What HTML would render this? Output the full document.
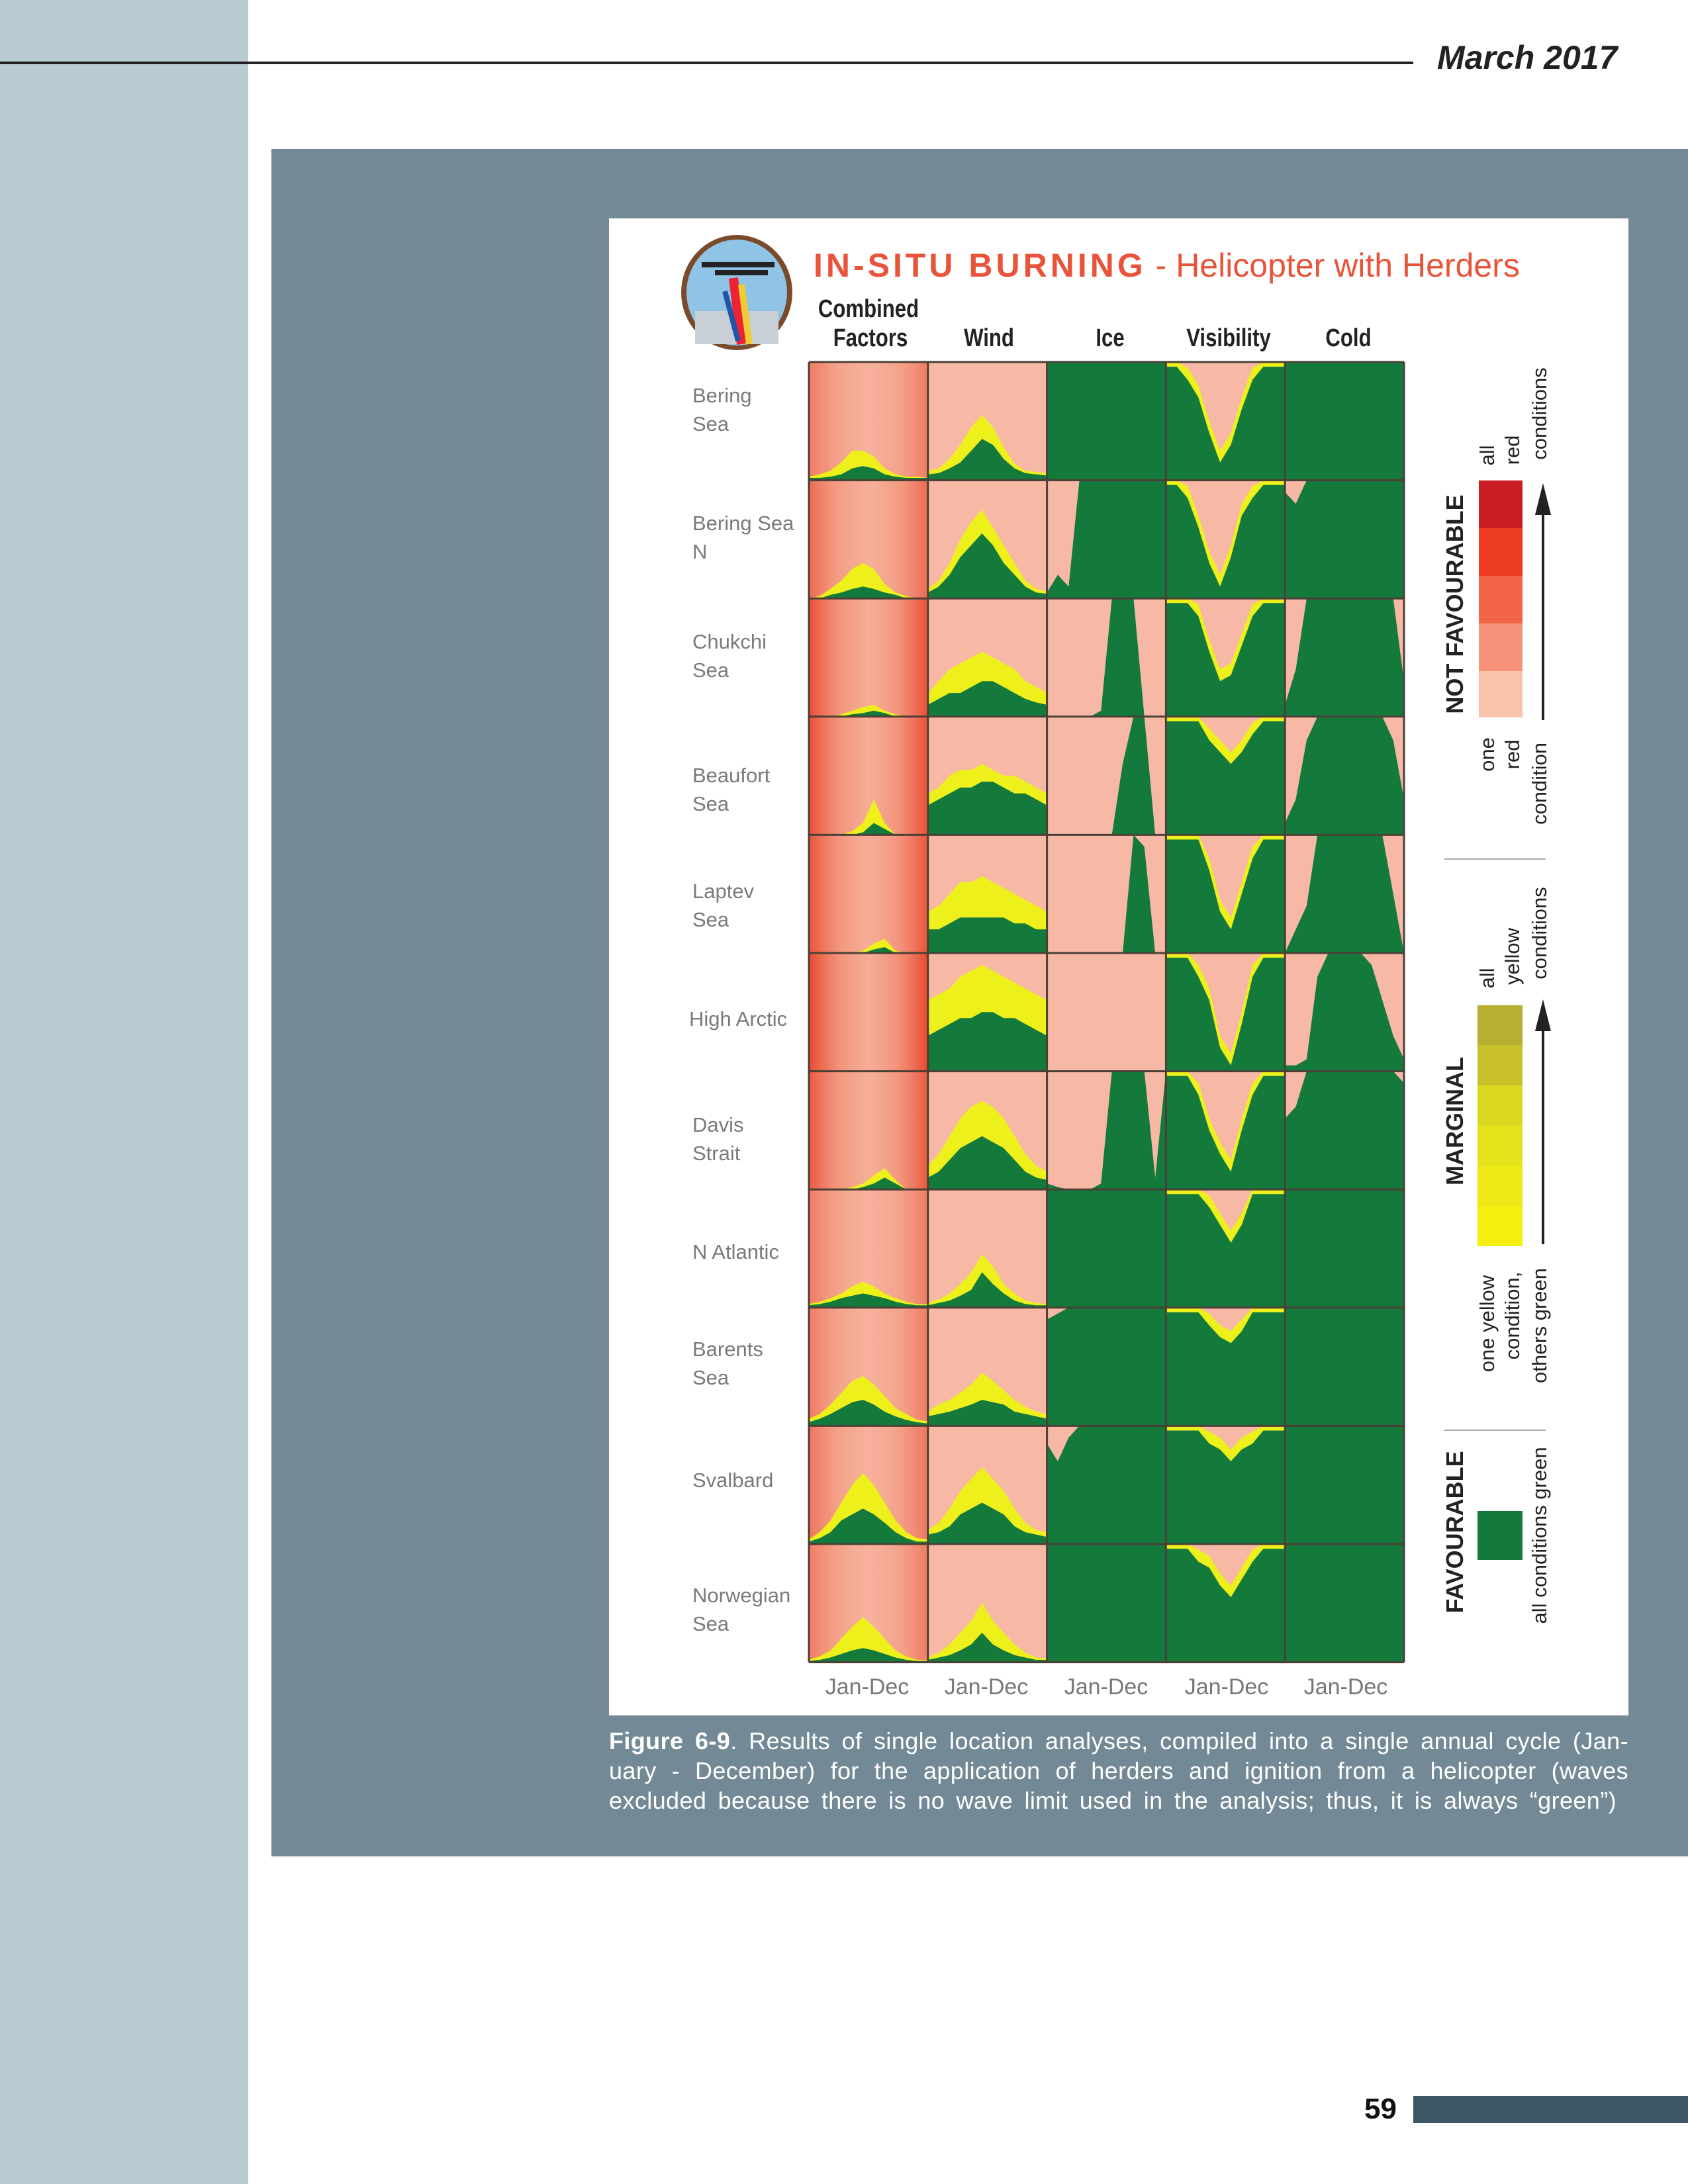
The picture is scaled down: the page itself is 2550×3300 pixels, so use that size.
<!DOCTYPE html>
<html><head><meta charset="utf-8"><style>
body{margin:0;width:2550px;height:3300px;position:relative;background:#fff;font-family:"Liberation Sans",sans-serif;overflow:hidden}
.abs{position:absolute}
.rot{position:absolute;transform:translate(-50%,-50%) rotate(-90deg);white-space:nowrap;color:#222}
.rl{position:absolute;font-size:31px;color:#7a7a7a;line-height:43px}
.ch{position:absolute;font-size:38px;font-weight:bold;color:#222;transform:translate(-50%,0) scaleX(0.82);white-space:nowrap}
.jd{position:absolute;font-size:34px;color:#777;transform:translateX(-50%);top:2530px}
.cap{position:absolute;left:920px;width:1540px;color:#fff;font-size:36px;letter-spacing:0.4px;text-align:justify;text-align-last:justify;white-space:nowrap;line-height:45px}
</style></head><body>
<div class="abs" style="left:0;top:0;width:375px;height:3300px;background:#b9cad3"></div>
<div class="abs" style="left:0;top:93px;width:2135px;height:4px;background:#222"></div>
<div class="abs" style="left:2171px;top:58px;font-size:50px;font-weight:bold;font-style:italic;color:#222">March 2017</div>
<div class="abs" style="left:410px;top:225px;width:2140px;height:2580px;background:#738a96"></div>
<div class="abs" style="left:920px;top:330px;width:1540px;height:2262px;background:#fff"></div>

<svg class="abs" style="left:1020px;top:350px" width="190" height="190" viewBox="0 0 190 190">
<ellipse cx="93" cy="92" rx="84" ry="87" fill="#7a4a2a"/>
<ellipse cx="93" cy="92" rx="76" ry="80" fill="#8fc4e6"/>
<rect x="30" y="120" width="126" height="50" fill="#c9cfd6"/>
<path d="M40 50 H150 M60 62 H140" stroke="#222" stroke-width="8"/>
<path d="M88 70 L100 170" stroke="#e23" stroke-width="14"/>
<path d="M100 80 L112 170" stroke="#ec3" stroke-width="10"/>
<path d="M75 90 L95 165" stroke="#25a" stroke-width="8"/>
</svg>
<div class="abs" style="left:1229px;top:372px;font-size:50px;color:#e8533a;white-space:nowrap"><b style="letter-spacing:5px">IN-SITU BURNING</b> - Helicopter with Herders</div>

<div class="ch" style="left:1312px;top:446px">Combined</div>
<div class="ch" style="left:1315px;top:490px">Factors</div>
<div class="ch" style="left:1494px;top:490px">Wind</div>
<div class="ch" style="left:1677px;top:490px">Ice</div>
<div class="ch" style="left:1856px;top:490px">Visibility</div>
<div class="ch" style="left:2037px;top:490px">Cold</div>

<div class="rl" style="left:1046px;top:576px">Bering<br>Sea</div>
<div class="rl" style="left:1046px;top:769px">Bering Sea<br>N</div>
<div class="rl" style="left:1046px;top:948px">Chukchi<br>Sea</div>
<div class="rl" style="left:1046px;top:1150px">Beaufort<br>Sea</div>
<div class="rl" style="left:1046px;top:1325px">Laptev<br>Sea</div>
<div class="rl" style="left:1041px;top:1518px">High Arctic</div>
<div class="rl" style="left:1046px;top:1678px">Davis<br>Strait</div>
<div class="rl" style="left:1046px;top:1870px">N Atlantic</div>
<div class="rl" style="left:1046px;top:2017px">Barents<br>Sea</div>
<div class="rl" style="left:1046px;top:2215px">Svalbard</div>
<div class="rl" style="left:1046px;top:2389px">Norwegian<br>Sea</div>

<svg id="grid" class="abs" style="left:0;top:0" width="2550" height="3300"></svg>

<div class="jd" style="left:1310px">Jan-Dec</div>
<div class="jd" style="left:1490px">Jan-Dec</div>
<div class="jd" style="left:1671px">Jan-Dec</div>
<div class="jd" style="left:1853px">Jan-Dec</div>
<div class="jd" style="left:2033px">Jan-Dec</div>

<div class="rot" style="left:2198px;top:913px;font-size:36px;font-weight:bold">NOT FAVOURABLE</div>
<svg class="abs" style="left:2234px;top:726px" width="66" height="358">
<rect y="0" width="66" height="72" fill="#c81e23"/><rect y="72" width="66" height="72" fill="#ee3b24"/><rect y="144" width="66" height="72" fill="#f26549"/><rect y="216" width="66" height="72" fill="#f6937a"/><rect y="288" width="66" height="70" fill="#f9c2ab"/></svg>
<div class="rot" style="left:2247px;top:688px;font-size:31px">all</div>
<div class="rot" style="left:2285px;top:680px;font-size:31px">red</div>
<div class="rot" style="left:2326px;top:625px;font-size:31px">conditions</div>
<div class="rot" style="left:2247px;top:1140px;font-size:31px">one</div>
<div class="rot" style="left:2285px;top:1140px;font-size:31px">red</div>
<div class="rot" style="left:2326px;top:1184px;font-size:31px">condition</div>
<svg class="abs" style="left:2300px;top:700px" width="60" height="1600">
<line x1="31" y1="388" x2="31" y2="50" stroke="#222" stroke-width="4"/><polygon points="19,78 43,78 31,30" fill="#222"/>
<line x1="31" y1="1180" x2="31" y2="830" stroke="#222" stroke-width="4"/><polygon points="19,858 43,858 31,810" fill="#222"/>
</svg>
<div class="abs" style="left:2182px;top:1297px;width:153px;height:2px;background:#aaa"></div>
<div class="rot" style="left:2198px;top:1694px;font-size:36px;font-weight:bold">MARGINAL</div>
<svg class="abs" style="left:2232px;top:1519px" width="68" height="364">
<rect y="0" width="68" height="60" fill="#b8ae30"/><rect y="60" width="68" height="61" fill="#c8c028"/><rect y="121" width="68" height="61" fill="#dad820"/><rect y="182" width="68" height="61" fill="#e4e21a"/><rect y="243" width="68" height="61" fill="#ede816"/><rect y="304" width="68" height="60" fill="#f6f010"/></svg>
<div class="rot" style="left:2247px;top:1478px;font-size:31px">all</div>
<div class="rot" style="left:2285px;top:1445px;font-size:31px">yellow</div>
<div class="rot" style="left:2326px;top:1410px;font-size:31px">conditions</div>
<div class="rot" style="left:2247px;top:2000px;font-size:31px">one yellow</div>
<div class="rot" style="left:2285px;top:1988px;font-size:31px">condition,</div>
<div class="rot" style="left:2326px;top:2003px;font-size:31px">others green</div>
<div class="abs" style="left:2182px;top:2160px;width:153px;height:2px;background:#aaa"></div>
<div class="rot" style="left:2198px;top:2315px;font-size:36px;font-weight:bold">FAVOURABLE</div>
<div class="abs" style="left:2232px;top:2283px;width:68px;height:74px;background:#137a3c"></div>
<div class="rot" style="left:2326px;top:2320px;font-size:31px">all conditions green</div>

<div class="cap" style="top:2608px"><b>Figure 6-9</b>. Results of single location analyses, compiled into a single annual cycle (Jan-</div>
<div class="cap" style="top:2653px">uary - December) for the application of herders and ignition from a helicopter (waves</div>
<div class="cap" style="top:2698px;width:1522px">excluded because there is no wave limit used in the analysis; thus, it is always “green”)</div>

<div class="abs" style="left:2061px;top:3162px;font-size:44px;font-weight:bold;color:#111">59</div>
<div class="abs" style="left:2135px;top:3167px;width:415px;height:41px;background:#3d5666"></div>

<script>
const rows=["Bering Sea","Bering Sea N","Chukchi Sea","Beaufort Sea","Laptev Sea","High Arctic","Davis Strait","N Atlantic","Barents Sea","Svalbard","Norwegian Sea"];
const columns=["Combined Factors","Wind","Ice","Visibility","Cold"];
const combinedRed=[0.55,0.7,0.95,0.95,0.9,1,0.85,0.55,0.55,0.6,0.55];
const combinedGreen=[
[.02,.02,.03,.05,.1,.12,.1,.05,.03,.02,.02,.02],
[0,0,.03,.05,.08,.1,.08,.05,.03,0,0,0],
[0,0,0,0,.02,.03,.05,.03,0,0,0,0],
[0,0,0,0,0,.02,.1,.05,0,0,0,0],
[0,0,0,0,0,0,.03,.05,0,0,0,0],
[0,0,0,0,0,0,0,0,0,0,0,0],
[0,0,0,0,0,.02,.05,.1,.05,0,0,0],
[.02,.03,.05,.08,.1,.12,.1,.08,.05,.03,.02,.02],
[.03,.06,.1,.15,.2,.22,.18,.12,.08,.05,.03,.02],
[.02,.05,.1,.2,.25,.3,.25,.18,.1,.05,.02,.02],
[.01,.02,.04,.07,.1,.12,.1,.07,.04,.02,.01,.01]];
const combinedYellow=[
[.03,.05,.08,.15,.25,.25,.2,.1,.05,.03,.03,.02],
[0,.02,.08,.15,.25,.3,.25,.12,.05,.02,0,0],
[0,0,0,.02,.05,.08,.1,.05,.02,0,0,0],
[0,0,0,0,.03,.1,.3,.1,0,0,0,0],
[0,0,0,0,0,.02,.08,.12,.02,0,0,0],
[0,0,0,0,0,0,0,0,0,0,0,0],
[0,0,0,0,.02,.05,.12,.18,.08,0,0,0],
[.03,.05,.08,.12,.18,.22,.18,.12,.08,.05,.03,.03],
[.06,.1,.18,.28,.38,.42,.35,.25,.15,.1,.05,.04],
[.04,.1,.2,.35,.5,.6,.5,.35,.2,.1,.05,.04],
[.02,.05,.1,.2,.3,.38,.3,.2,.1,.05,.02,.02]];
const windGreen=[
[.05,.06,.1,.15,.25,.35,.3,.18,.1,.06,.05,.04],
[.05,.1,.2,.35,.45,.55,.45,.3,.2,.1,.05,.04],
[.1,.15,.2,.2,.25,.3,.3,.25,.2,.15,.12,.1],
[.25,.3,.35,.4,.4,.45,.45,.4,.35,.35,.3,.25],
[.2,.2,.25,.3,.3,.3,.3,.3,.25,.25,.2,.2],
[.3,.35,.4,.45,.45,.5,.5,.45,.45,.4,.35,.3],
[.1,.15,.25,.35,.4,.45,.4,.35,.25,.15,.1,.08],
[.02,.04,.06,.1,.15,.3,.2,.12,.06,.03,.02,.02],
[.08,.1,.12,.15,.18,.22,.2,.18,.12,.1,.08,.06],
[.08,.1,.15,.25,.3,.35,.3,.25,.15,.1,.08,.06],
[.02,.04,.06,.1,.15,.25,.15,.1,.06,.04,.02,.02]];
const windYellow=[
[.08,.1,.18,.3,.45,.55,.45,.28,.14,.08,.07,.06],
[.08,.15,.3,.5,.65,.75,.6,.45,.3,.15,.08,.06],
[.2,.3,.4,.45,.5,.55,.5,.45,.4,.3,.25,.2],
[.35,.4,.5,.55,.55,.6,.55,.5,.5,.45,.4,.35],
[.35,.4,.5,.6,.6,.65,.6,.55,.5,.45,.4,.35],
[.6,.65,.7,.8,.85,.9,.85,.8,.75,.7,.65,.6],
[.2,.3,.45,.6,.7,.75,.7,.6,.45,.3,.2,.15],
[.04,.07,.12,.2,.3,.45,.35,.2,.12,.06,.04,.03],
[.12,.18,.22,.28,.35,.45,.38,.3,.22,.16,.12,.1],
[.12,.18,.3,.45,.55,.65,.55,.45,.3,.18,.12,.1],
[.04,.08,.15,.25,.35,.5,.35,.25,.15,.08,.04,.03]];
const iceGreen=[
[1,1,1,1,1,1,1,1,1,1,1,1],
[.05,.2,.1,1,1,1,1,1,1,1,1,1],
[0,0,0,0,0,.05,1,1,1,0,0,0],
[0,0,0,0,0,0,0,.6,1,1,0,0],
[0,0,0,0,0,0,0,0,1,.9,0,0],
[0,0,0,0,0,0,0,0,0,0,0,0],
[.05,.02,0,0,0,.05,1,1,1,1,.1,1],
[1,1,1,1,1,1,1,1,1,1,1,1],
[.9,.95,1,1,1,1,1,1,1,1,1,1],
[.85,.7,.9,1,1,1,1,1,1,1,1,1],
[1,1,1,1,1,1,1,1,1,1,1,1]];
const visDepth=[
[0,0,.05,.2,.5,.75,.6,.3,.05,0,0,0],
[0,0,.05,.3,.6,.8,.55,.2,.05,0,0,0],
[0,0,0,.05,.35,.6,.55,.3,.05,0,0,0],
[0,0,0,0,.1,.2,.3,.2,.05,0,0,0],
[0,0,0,0,.2,.55,.7,.4,.1,0,0,0],
[0,0,0,.1,.3,.7,.85,.5,.1,0,0,0],
[0,0,0,.1,.4,.6,.75,.4,.1,0,0,0],
[0,0,0,0,.05,.2,.35,.2,0,0,0,0],
[0,0,0,0,.05,.15,.2,.1,0,0,0,0],
[0,0,0,0,.05,.1,.2,.1,.05,0,0,0],
[0,0,0,.05,.1,.25,.35,.2,.05,0,0,0]];
const coldGreen=[
[1,1,1,1,1,1,1,1,1,1,1,1],
[.9,.8,1,1,1,1,1,1,1,1,1,1],
[.1,.4,1,1,1,1,1,1,1,1,1,.3],
[.1,.3,.8,1,1,1,1,1,1,1,.8,.3],
[0,.2,.4,1,1,1,1,1,1,1,.5,0],
[.05,.05,.1,.8,1,1,1,1,.9,.6,.3,.1],
[.6,.7,1,1,1,1,1,1,1,1,1,.9],
[1,1,1,1,1,1,1,1,1,1,1,1],
[1,1,1,1,1,1,1,1,1,1,1,1],
[1,1,1,1,1,1,1,1,1,1,1,1],
[1,1,1,1,1,1,1,1,1,1,1,1]];

const X0=1222,Y0=547,CW=179.8,RH=178.6;
const PINK="#f7b9a5",GREEN="#137a3c",YEL="#eef01c";
function xScale(c,i){return X0+c*CW+i*CW/11;}
function yScale(r,v){return Y0+(r+1)*RH-v*RH;}
const svg=document.getElementById('grid');
const NS="http://www.w3.org/2000/svg";
svg.innerHTML='<defs><linearGradient id="redg" x1="0" x2="1"><stop offset="0" stop-color="#e8482f"/><stop offset="0.25" stop-color="#f08468" stop-opacity="0.75"/><stop offset="0.5" stop-color="#f49c84" stop-opacity="0.45"/><stop offset="0.75" stop-color="#f08468" stop-opacity="0.75"/><stop offset="1" stop-color="#e8482f"/></linearGradient></defs>';
function el(tag,attrs){const e=document.createElementNS(NS,tag);for(const k in attrs)e.setAttribute(k,attrs[k]);svg.appendChild(e);return e;}
function areaUp(r,c,vals,fill){
  let p=xScale(c,0)+","+yScale(r,0);
  vals.forEach((v,i)=>{p+=" "+xScale(c,i).toFixed(1)+","+yScale(r,Math.min(1,v)).toFixed(1);});
  p+=" "+xScale(c,11)+","+yScale(r,0);
  return el('polygon',{points:p,fill:fill});
}
function areaDown(r,c,vals,fill){
  let p=xScale(c,0)+","+yScale(r,1);
  vals.forEach((v,i)=>{p+=" "+xScale(c,i).toFixed(1)+","+yScale(r,1-Math.min(1,v)).toFixed(1);});
  p+=" "+xScale(c,11)+","+yScale(r,1);
  return el('polygon',{points:p,fill:fill});
}
rows.forEach((name,r)=>{
  for(let c=0;c<5;c++){
    const bg=el('rect',{x:xScale(c,0),y:yScale(r,1),width:CW,height:RH,fill:(c===3?GREEN:PINK)});
    
    
  }
  const red=el('rect',{x:xScale(0,0),y:yScale(r,1),width:CW,height:RH,fill:"url(#redg)","fill-opacity":combinedRed[r]});
  
  
  const cy=areaUp(r,0,combinedYellow[r],YEL);
  
  
  const cg=areaUp(r,0,combinedGreen[r],GREEN);
  
  
  const wy=areaUp(r,1,windYellow[r],YEL);
  
  
  const wg=areaUp(r,1,windGreen[r],GREEN);
  
  
  const ig=areaUp(r,2,iceGreen[r],GREEN);
  
  
  const vy=areaDown(r,3,visDepth[r].map(v=>v>0?v+0.1:0.04),YEL);
  
  
  const vp=areaDown(r,3,visDepth[r],PINK);
  
  
  const kg=areaUp(r,4,coldGreen[r],GREEN);
  
  
});
for(let r=0;r<=11;r++){
  const l=el('line',{x1:X0,x2:X0+5*CW,y1:Y0+r*RH,y2:Y0+r*RH,stroke:"#4a4036","stroke-width":3});
  
  
}
for(let c=0;c<=5;c++){
  const l=el('line',{x1:X0+c*CW,x2:X0+c*CW,y1:Y0,y2:Y0+11*RH,stroke:"#4a4036","stroke-width":3});
  
  
}
</script>
</body></html>
